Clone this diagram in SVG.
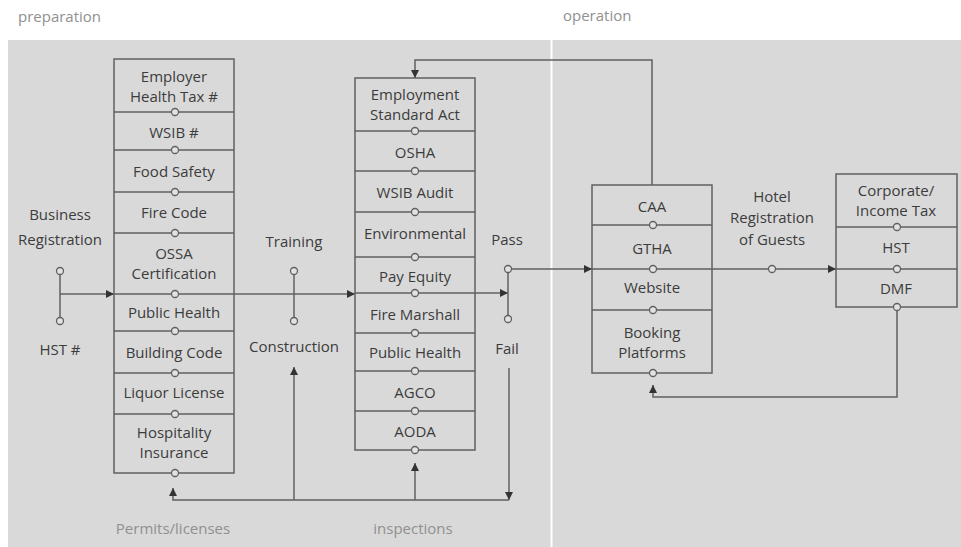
<svg xmlns="http://www.w3.org/2000/svg" width="961" height="547" viewBox="0 0 961 547">
<style>
text{font-family:"Open Sans","Noto Sans","Liberation Sans",sans-serif;font-size:15px;fill:#3c3c3c;text-anchor:middle}
.lab{fill:#909090}
.st{text-anchor:start}
.box{fill:none;stroke:#606060;stroke-width:1.5}
.div{stroke:#606060;stroke-width:1.5}
.pin{fill:#e2e2e2;stroke:#606060;stroke-width:1.3}
.con{fill:none;stroke:#606060;stroke-width:1.5}
</style>
<defs>
<marker id="ah" viewBox="0 0 10 10" refX="10" refY="5" markerWidth="9" markerHeight="8" markerUnits="userSpaceOnUse" orient="auto">
<path d="M0,0 L10,5 L0,10 z" fill="#333"/>
</marker>
</defs>
<rect x="0" y="0" width="961" height="547" fill="#ffffff"/>
<rect x="8" y="40" width="953" height="507" fill="#d9d9d9"/>
<rect x="550.5" y="40" width="2" height="507" fill="#ffffff"/>
<text class="lab st" x="18" y="22">preparation</text>
<text class="lab st" x="563" y="21">operation</text>
<text class="lab" x="173" y="534">Permits/licenses</text>
<text class="lab" x="413" y="534">inspections</text>

<g id="connectors">
<path class="con" d="M60,294 H114" marker-end="url(#ah)"/>
<path class="con" d="M234,294 H355" marker-end="url(#ah)"/>
<path class="con" d="M475,293 H508" marker-end="url(#ah)"/>
<path class="con" d="M508,269 H592" marker-end="url(#ah)"/>
<path class="con" d="M712,269 H836" marker-end="url(#ah)"/>
<path class="con" d="M652,185 V60 H415 V78" marker-end="url(#ah)"/>
<path class="con" d="M509,368 V500" marker-end="url(#ah)"/>
<path class="con" d="M509,500 H173 V488" marker-end="url(#ah)"/>
<path class="con" d="M294,500 V367" marker-end="url(#ah)"/>
<path class="con" d="M415,500 V463" marker-end="url(#ah)"/>
<path class="con" d="M897,307 V397 H653 V385" marker-end="url(#ah)"/>
</g>

<g id="business">
<text x="60" y="220">Business</text>
<text x="60" y="245">Registration</text>
<line class="con" x1="60" y1="271" x2="60" y2="321"/>
<circle class="pin" cx="60" cy="271" r="3.5"/>
<circle class="pin" cx="60" cy="321" r="3.5"/>
<text x="60" y="355">HST #</text>
</g>

<g id="training">
<text x="294" y="247">Training</text>
<line class="con" x1="294" y1="271" x2="294" y2="321"/>
<circle class="pin" cx="294" cy="271" r="3.5"/>
<circle class="pin" cx="294" cy="321" r="3.5"/>
<text x="294" y="352">Construction</text>
</g>

<g id="passfail">
<text x="507" y="245">Pass</text>
<line class="con" x1="508" y1="269" x2="508" y2="319"/>
<circle class="pin" cx="508" cy="269" r="3.5"/>
<circle class="pin" cx="508" cy="319" r="3.5"/>
<text x="507" y="354">Fail</text>
</g>

<g id="hotel">
<text x="772" y="202">Hotel</text>
<text x="772" y="223">Registration</text>
<text x="772" y="245">of Guests</text>
<circle class="pin" cx="772" cy="269" r="3.5"/>
</g>

<g id="permits">
<rect class="box" x="114" y="59" width="120" height="414"/>
<path class="div" d="M114,112H234M114,150H234M114,192H234M114,233H234M114,294H234M114,331H234M114,373H234M114,414H234"/>
<text x="174" y="82">Employer</text>
<text x="174" y="102">Health Tax #</text>
<text x="174" y="138">WSIB #</text>
<text x="174" y="177">Food Safety</text>
<text x="174" y="218">Fire Code</text>
<text x="174" y="259">OSSA</text>
<text x="174" y="279">Certification</text>
<text x="174" y="318">Public Health</text>
<text x="174" y="358">Building Code</text>
<text x="174" y="398">Liquor License</text>
<text x="174" y="438">Hospitality</text>
<text x="174" y="458">Insurance</text>
<circle class="pin" cx="175" cy="112" r="3.5"/>
<circle class="pin" cx="175" cy="150" r="3.5"/>
<circle class="pin" cx="175" cy="192" r="3.5"/>
<circle class="pin" cx="175" cy="233" r="3.5"/>
<circle class="pin" cx="175" cy="294" r="3.5"/>
<circle class="pin" cx="175" cy="331" r="3.5"/>
<circle class="pin" cx="175" cy="373" r="3.5"/>
<circle class="pin" cx="175" cy="414" r="3.5"/>
<circle class="pin" cx="175" cy="473" r="3.5"/>
</g>

<g id="inspections">
<rect class="box" x="355" y="78" width="120" height="372"/>
<path class="div" d="M355,131H475M355,171H475M355,212H475M355,257H475M355,293H475M355,333H475M355,371H475M355,411H475"/>
<text x="415" y="100">Employment</text>
<text x="415" y="120">Standard Act</text>
<text x="415" y="158">OSHA</text>
<text x="415" y="198">WSIB Audit</text>
<text x="415" y="239">Environmental</text>
<text x="415" y="282">Pay Equity</text>
<text x="415" y="320">Fire Marshall</text>
<text x="415" y="358">Public Health</text>
<text x="415" y="398">AGCO</text>
<text x="415" y="437">AODA</text>
<circle class="pin" cx="415" cy="131" r="3.5"/>
<circle class="pin" cx="415" cy="171" r="3.5"/>
<circle class="pin" cx="415" cy="212" r="3.5"/>
<circle class="pin" cx="415" cy="257" r="3.5"/>
<circle class="pin" cx="415" cy="293" r="3.5"/>
<circle class="pin" cx="415" cy="333" r="3.5"/>
<circle class="pin" cx="415" cy="371" r="3.5"/>
<circle class="pin" cx="415" cy="411" r="3.5"/>
<circle class="pin" cx="415" cy="450" r="3.5"/>
</g>

<g id="operations">
<rect class="box" x="592" y="185" width="120" height="188"/>
<path class="div" d="M592,225H712M592,269H712M592,310H712"/>
<text x="652" y="212">CAA</text>
<text x="652" y="254">GTHA</text>
<text x="652" y="293">Website</text>
<text x="652" y="338">Booking</text>
<text x="652" y="358">Platforms</text>
<circle class="pin" cx="653" cy="225" r="3.5"/>
<circle class="pin" cx="653" cy="269" r="3.5"/>
<circle class="pin" cx="653" cy="310" r="3.5"/>
<circle class="pin" cx="653" cy="373" r="3.5"/>
</g>

<g id="taxes">
<rect class="box" x="836" y="174" width="121" height="133"/>
<path class="div" d="M836,227H957M836,269H957"/>
<text x="896" y="196">Corporate/</text>
<text x="896" y="216">Income Tax</text>
<text x="896" y="253">HST</text>
<text x="896" y="294">DMF</text>
<circle class="pin" cx="897" cy="227" r="3.5"/>
<circle class="pin" cx="897" cy="269" r="3.5"/>
<circle class="pin" cx="897" cy="307" r="3.5"/>
</g>
</svg>
